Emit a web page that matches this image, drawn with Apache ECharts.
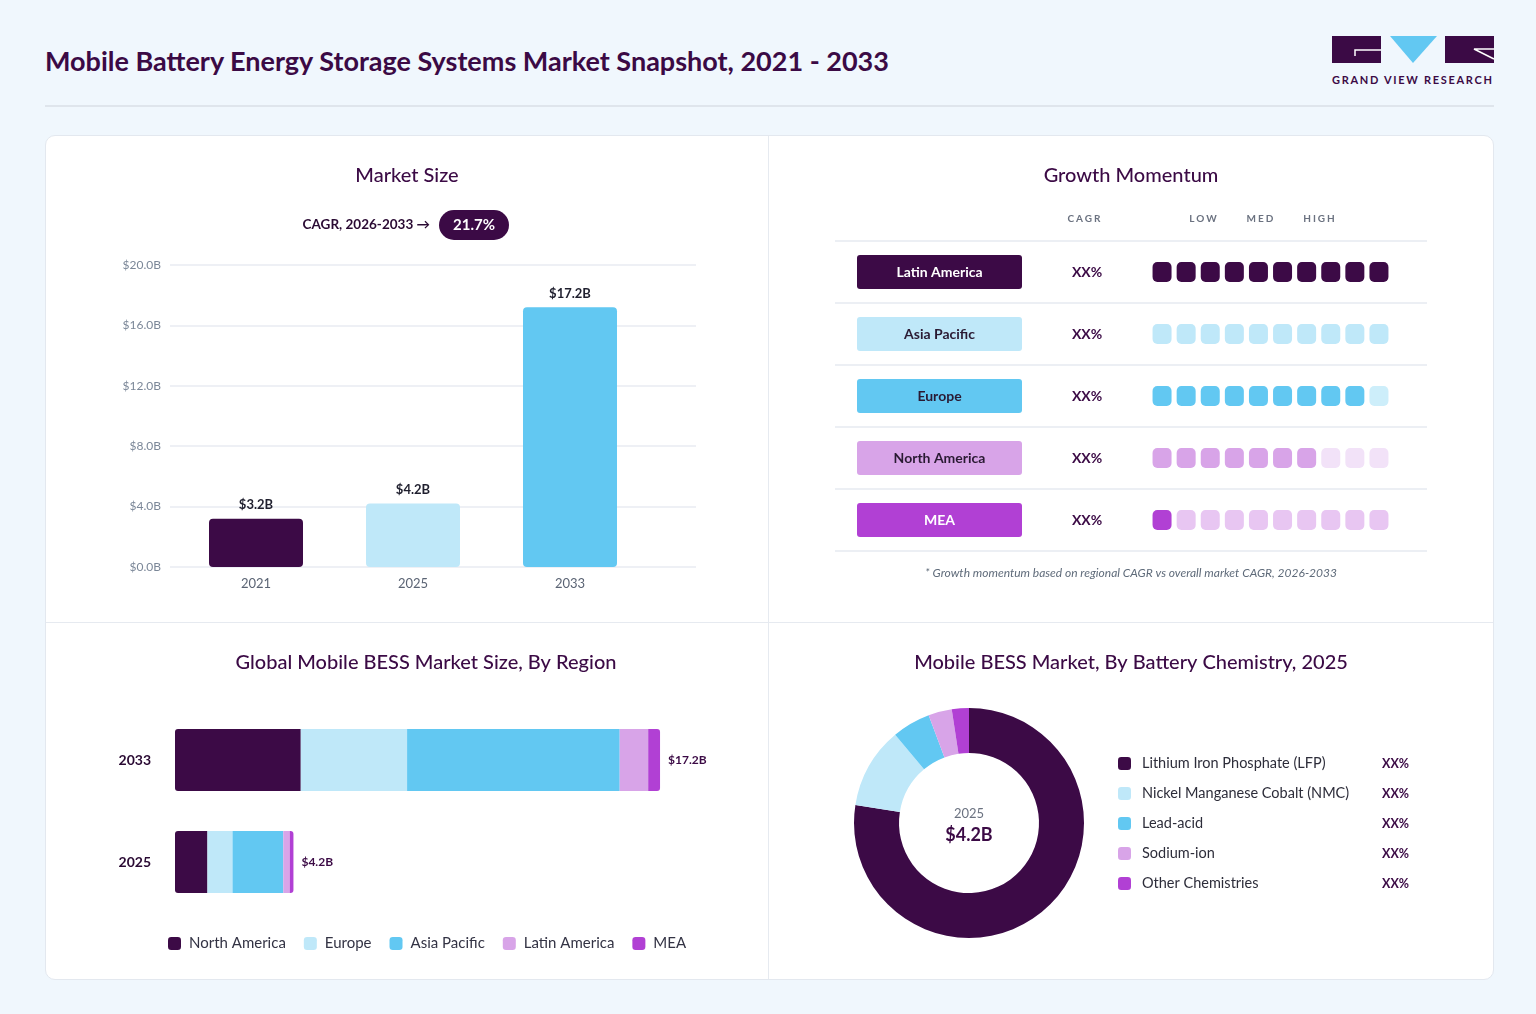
<!DOCTYPE html>
<html><head><meta charset="utf-8">
<script src="https://cdn.jsdelivr.net/npm/echarts@6/dist/echarts.min.js"></script>
<style>
html,body{margin:0;padding:0;background:#f0f7fd;width:1536px;height:1014px;overflow:hidden;font-family:Lato,"Noto Sans",sans-serif;}
#title{position:absolute;left:45px;top:45px;line-height:32px;font-size:27px;font-weight:700;color:#3b0a45;white-space:nowrap;}
#rule{position:absolute;left:45px;top:105px;width:1449px;height:2px;background:#dfe5ec;}
#card{position:absolute;left:45px;top:135px;width:1447px;height:843px;background:#fff;border:1px solid #e3e8ef;border-radius:10px;}
#vdiv{position:absolute;left:768px;top:136px;width:1px;height:843px;background:#e6eaf0;}
#hdiv{position:absolute;left:46px;top:622px;width:1447px;height:1px;background:#e6eaf0;}
#chart{position:absolute;left:0;top:0;width:1536px;height:1014px;}
.hdr{position:absolute;top:211px;font-size:10px;line-height:14px;letter-spacing:2px;color:#6b7280;font-weight:700;transform:translateX(-50%);white-space:nowrap;}
#logo{position:absolute;left:1332px;top:36px;}
#logotext{position:absolute;left:1332px;top:73px;font-size:11px;line-height:14px;font-weight:700;letter-spacing:1.7px;color:#3b0a45;white-space:nowrap;}
</style></head>
<body>
<div id="card"></div><div id="vdiv"></div><div id="hdiv"></div>
<div id="title">Mobile Battery Energy Storage Systems Market Snapshot, 2021 - 2033</div>
<div id="rule"></div>
<svg id="logo" width="163" height="28" viewBox="0 0 163 28">
  <rect x="0" y="0" width="49" height="27" fill="#3b0a45"/>
  <polyline points="49,14 23,14 23,20" fill="none" stroke="#fff" stroke-width="1.5"/>
  <polygon points="58,0 105,0 81,27" fill="#62c8f2"/>
  <rect x="113" y="0" width="49" height="27" fill="#3b0a45"/>
  <polyline points="162,13 142,13 162,23" fill="none" stroke="#fff" stroke-width="1.5"/>
</svg>
<div id="logotext">GRAND VIEW RESEARCH</div>
<div id="chart"></div>
<div class="hdr" style="left:1085px">CAGR</div>
<div class="hdr" style="left:1204px">LOW</div>
<div class="hdr" style="left:1261px">MED</div>
<div class="hdr" style="left:1320px">HIGH</div>
<script>
// ---- Market size ----
const years = ['2021', '2025', '2033'];
const marketSize = [3.2, 4.2, 17.2];
const marketColors = ['#3c0a46', '#bfe8f9', '#62c8f2'];
const cagrLabel = 'CAGR, 2026-2033 →';
const cagrValue = '21.7%';

// ---- Growth momentum ----
const momentumRegions = ['Latin America', 'Asia Pacific', 'Europe', 'North America', 'MEA'];
const momentumLevels = [10, 10, 9, 7, 1];
const momentumCagr = ['XX%', 'XX%', 'XX%', 'XX%', 'XX%'];
const momentumSteps = ['1', '2', '3', '4', '5', '6', '7', '8', '9', '10'];
const momentumOn = ['#3c0a46', '#bfe8f9', '#62c8f2', '#d8a4e8', '#b140d4'];
const momentumOff = ['#e3d6e6', '#bfe8f9', '#cdeefa', '#f2e2f8', '#e8c6f2'];
const momentumText = ['#ffffff', '#2a1a33', '#2a1a33', '#2a1a33', '#ffffff'];

// ---- Market by region (stacked) ----
const stackYears = ['2025', '2033'];
const stackRegions = ['North America', 'Europe', 'Asia Pacific', 'Latin America', 'MEA'];
const northAmerica = [1.15, 4.46];
const europe = [0.89, 3.77];
const asiaPacific = [1.80, 7.54];
const latinAmerica = [0.23, 1.01];
const mea = [0.13, 0.42];
const stackTotals = ['$4.2B', '$17.2B'];
const stackColors = ['#3c0a46', '#bfe8f9', '#62c8f2', '#d8a4e8', '#b140d4'];

// ---- Battery chemistry ----
const chemNames = ['Lithium Iron Phosphate (LFP)', 'Nickel Manganese Cobalt (NMC)', 'Lead-acid', 'Sodium-ion', 'Other Chemistries'];
const chemShares = [77.5, 11.4, 5.4, 3.3, 2.4];
const chemLabels = ['XX%', 'XX%', 'XX%', 'XX%', 'XX%'];
const chemColors = ['#3c0a46', '#bfe8f9', '#62c8f2', '#d8a4e8', '#b140d4'];
const donutYear = '2025';
const donutTotal = '$4.2B';

const FONT = 'Lato, "Noto Sans", sans-serif';
const chart = echarts.init(document.getElementById('chart'), null, {renderer: 'canvas'});

const squares = [];
momentumRegions.forEach((r, ri) => {
  momentumSteps.forEach((s, si) => {
    squares.push({value: [si, ri], itemStyle: {color: si < momentumLevels[ri] ? momentumOn[ri] : momentumOff[ri]}});
  });
});

const pillRich = {};
momentumRegions.forEach((r, i) => {
  pillRich['p' + i] = {
    backgroundColor: momentumOn[i], color: momentumText[i], width: 165, height: 34,
    borderRadius: 3, align: 'center', fontWeight: 'bold', fontSize: 14, fontFamily: FONT, lineHeight: 34
  };
});

const stackData = [northAmerica, europe, asiaPacific, latinAmerica, mea];

function titleText(x, y, t) {
  return {type: 'text', x: x, y: y, style: {text: t, fill: '#3b0a45', font: '500 20px ' + FONT, textAlign: 'center', textVerticalAlign: 'middle'}};
}

const option = {
  animation: false,
  textStyle: {fontFamily: FONT},
  grid: [
    {left: 170, top: 265, width: 526, height: 302},
    {left: 177.5, top: 265, width: 471, height: 302},
    {left: 835, top: 241, width: 592, height: 310},
    {left: 1150, top: 241, width: 241, height: 310},
    {left: 175, top: 709, width: 564, height: 204}
  ],
  xAxis: [
    {gridIndex: 0, type: 'value', min: 0, max: 1, show: false},
    {gridIndex: 1, type: 'category', data: years, axisLine: {show: false}, axisTick: {show: false},
      axisLabel: {color: '#5b6474', fontSize: 13, margin: 10, fontFamily: FONT}},
    {gridIndex: 2, type: 'value', min: 0, max: 1, show: false},
    {gridIndex: 3, type: 'category', data: momentumSteps, show: false},
    {gridIndex: 4, type: 'value', min: 0, max: 20, show: false}
  ],
  yAxis: [
    {gridIndex: 0, type: 'value', min: 0, max: 20, interval: 4,
      axisLine: {show: false}, axisTick: {show: false},
      axisLabel: {color: '#7b8798', fontSize: 12, margin: 9, fontFamily: FONT, formatter: v => '$' + v.toFixed(1) + 'B'},
      splitLine: {lineStyle: {color: '#e8ebf2', width: 1.5}}},
    {gridIndex: 1, type: 'value', min: 0, max: 20, show: false},
    {gridIndex: 2, type: 'category', data: momentumRegions, inverse: true,
      axisLine: {show: false}, axisTick: {show: false}, axisLabel: {show: false},
      splitLine: {show: true, lineStyle: {color: '#e6eaf0', width: 1.5}}},
    {gridIndex: 3, type: 'category', data: momentumRegions, inverse: true,
      axisLine: {show: false}, axisTick: {show: false},
      axisLabel: {margin: 128, formatter: (v, i) => '{p' + i + '|' + v + '}', rich: pillRich}},
    {gridIndex: 3, type: 'category', data: momentumCagr, inverse: true, position: 'left',
      axisLine: {show: false}, axisTick: {show: false},
      axisLabel: {margin: 63, align: 'center', color: '#3b0a45', fontWeight: 'bold', fontSize: 14, fontFamily: FONT}},
    {gridIndex: 4, type: 'category', data: stackYears,
      axisLine: {show: false}, axisTick: {show: false},
      axisLabel: {margin: 24, color: '#2a0a33', fontWeight: 'bold', fontSize: 14, fontFamily: FONT}}
  ],
  legend: [
    {data: stackRegions, left: 168, top: 936, padding: 0, itemWidth: 13, itemHeight: 13, itemGap: 18, icon: 'roundRect',
      textStyle: {fontSize: 15, color: '#333344', fontFamily: FONT, padding: [0, 0, 0, 3]}},
    {data: chemNames, orient: 'vertical', left: 1118, top: 756, padding: 0, itemWidth: 13, itemHeight: 13, itemGap: 15, icon: 'roundRect',
      formatter: name => '{n|' + name + '}{v|' + chemLabels[chemNames.indexOf(name)] + '}',
      textStyle: {rich: {
        n: {width: 240, fontSize: 14.5, color: '#2d2d3a', fontFamily: FONT, padding: [0, 0, 0, 6]},
        v: {fontSize: 12.5, fontWeight: 'bold', color: '#3b0a45', fontFamily: FONT}
      }}}
  ],
  series: [
    {type: 'bar', xAxisIndex: 1, yAxisIndex: 1, barWidth: 94,
      data: marketSize.map((v, i) => ({value: v, itemStyle: {color: marketColors[i], borderRadius: 4}})),
      label: {show: true, position: 'top', distance: 7, formatter: p => '$' + p.value.toFixed(1) + 'B',
        color: '#1f1f2e', fontWeight: 'bold', fontSize: 13, fontFamily: FONT}},
    {type: 'scatter', xAxisIndex: 3, yAxisIndex: 3, symbol: 'roundRect', symbolSize: [19, 20], data: squares, silent: true,
      itemStyle: {opacity: 1}},
    ...stackRegions.map((name, i) => ({
      type: 'bar', name: name, stack: 'region', xAxisIndex: 4, yAxisIndex: 5, barWidth: 62,
      itemStyle: {color: stackColors[i], borderRadius: i === 0 ? [3, 0, 0, 3] : (i === stackRegions.length - 1 ? [0, 3, 3, 0] : 0)},
      data: stackData[i],
      label: i === stackRegions.length - 1 ? {show: true, position: 'right', distance: 8,
        formatter: p => stackTotals[p.dataIndex], color: '#3b0a45', fontSize: 12, fontWeight: 'bold', fontFamily: FONT} : {show: false}
    })),
    {type: 'pie', center: [969, 823], radius: [70, 115], startAngle: 90, clockwise: true,
      label: {show: false}, labelLine: {show: false}, silent: true,
      data: chemNames.map((n, i) => ({name: n, value: chemShares[i], itemStyle: {color: chemColors[i]}}))}
  ],
  graphic: [
    titleText(407, 176, 'Market Size'),
    titleText(1131, 176, 'Growth Momentum'),
    titleText(426, 663, 'Global Mobile BESS Market Size, By Region'),
    titleText(1131, 663, 'Mobile BESS Market, By Battery Chemistry, 2025'),
    {type: 'text', x: 430, y: 225, style: {text: cagrLabel, fill: '#2a0a33', font: 'bold 13.5px ' + FONT, textAlign: 'right', textVerticalAlign: 'middle'}},
    {type: 'rect', shape: {x: 439, y: 210, width: 70, height: 30, r: 15}, style: {fill: '#3b0a45'}},
    {type: 'text', x: 474, y: 225, style: {text: cagrValue, fill: '#ffffff', font: 'bold 15px ' + FONT, textAlign: 'center', textVerticalAlign: 'middle'}},
    {type: 'text', x: 1131, y: 573, style: {text: '* Growth momentum based on regional CAGR vs overall market CAGR, 2026-2033', fill: '#5f6b7a', font: 'italic 12px ' + FONT, textAlign: 'center', textVerticalAlign: 'middle'}},
    {type: 'text', x: 969, y: 814, style: {text: donutYear, fill: '#6b7280', font: '13px ' + FONT, textAlign: 'center', textVerticalAlign: 'middle'}},
    {type: 'text', x: 969, y: 835, style: {text: donutTotal, fill: '#3b0a45', font: 'bold 18px ' + FONT, textAlign: 'center', textVerticalAlign: 'middle'}}
  ]
};
chart.setOption(option);
</script>
</body></html>
